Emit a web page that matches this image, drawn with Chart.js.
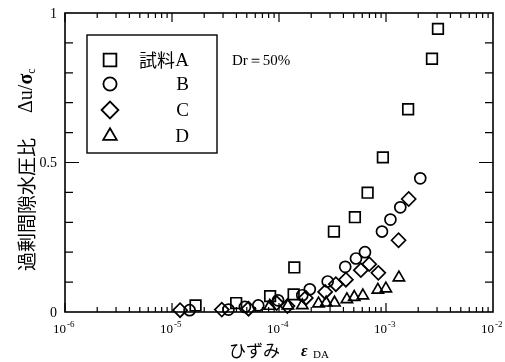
<!DOCTYPE html>
<html lang="ja">
<head>
    <meta charset="UTF-8">
    <title>過剰間隙水圧比とひずみ</title>
    <script src="https://cdn.jsdelivr.net/npm/chart.js"></script>
    <style>
        body { margin: 0; background: #fff; }
        canvas { display: block; }
    </style>
</head>
<body>
    <canvas id="chart" width="505" height="362"></canvas>

    <script>
        // 軸の目盛
        const xTicks = [1e-6, 1e-5, 1e-4, 1e-3, 1e-2];
        const xTickExp = ['-6', '-5', '-4', '-3', '-2'];
        const yTicks = [0, 0.5, 1];
        const yTickLabels = ['0', '0.5', '1'];

        // 試料A (□)
        const strainA = [1.66e-5, 3.98e-5, 8.26e-5, 1.37e-4, 1.39e-4, 3.26e-4, 5.12e-4, 6.73e-4, 9.35e-4, 1.61e-3, 2.69e-3, 3.06e-3];
        const ratioA  = [0.022, 0.030, 0.053, 0.059, 0.149, 0.269, 0.317, 0.399, 0.517, 0.678, 0.847, 0.947];
        // 試料B (○)
        const strainB = [1.46e-5, 3.37e-5, 4.8e-5, 6.4e-5, 9.8e-5, 1.65e-4, 1.94e-4, 2.85e-4, 4.16e-4, 5.24e-4, 6.36e-4, 9.17e-4, 1.10e-3, 1.36e-3, 2.09e-3];
        const ratioB  = [0.006, 0.008, 0.017, 0.022, 0.039, 0.056, 0.076, 0.102, 0.151, 0.179, 0.200, 0.269, 0.309, 0.350, 0.447];
        // 試料C (◇)
        const strainC = [1.19e-5, 2.92e-5, 5.19e-5, 9.5e-5, 1.2e-4, 1.78e-4, 2.70e-4, 3.40e-4, 4.22e-4, 5.82e-4, 6.97e-4, 8.48e-4, 1.31e-3, 1.63e-3];
        const ratioC  = [0.006, 0.008, 0.011, 0.030, 0.020, 0.047, 0.067, 0.093, 0.108, 0.140, 0.160, 0.131, 0.240, 0.378];
        // 試料D (△)
        const strainD = [8.2e-5, 1.21e-4, 1.65e-4, 2.34e-4, 2.76e-4, 3.30e-4, 4.31e-4, 5.05e-4, 6.08e-4, 8.39e-4, 9.97e-4, 1.32e-3];
        const ratioD  = [0.020, 0.021, 0.022, 0.028, 0.031, 0.031, 0.042, 0.050, 0.055, 0.074, 0.078, 0.115];

        const legendLabels = ['A', 'B', 'C', 'D'];

        const toPoints = (xs, ys) => xs.map((x, i) => ({ x: x, y: ys[i] }));

        function series(xs, ys, style, radius) {
            return {
                data: toPoints(xs, ys),
                pointStyle: style,
                pointRadius: radius,
                pointHoverRadius: radius,
                pointBorderWidth: 1.7,
                borderColor: '#000',
                backgroundColor: 'rgba(0,0,0,0)',
                showLine: false,
                clip: false
            };
        }

        const serif = "'Liberation Serif', 'DejaVu Serif', serif";
        const cjk = "'Noto Sans CJK JP', sans-serif";

        // 枠、内向きの目盛、ラベル、凡例
        const decorations = {
            id: 'decorations',
            afterDraw(chart) {
                const { ctx, chartArea: a, scales: { x, y } } = chart;
                ctx.save();
                ctx.strokeStyle = '#000';
                ctx.fillStyle = '#000';

                // 枠
                ctx.lineWidth = 1.6;
                ctx.strokeRect(a.left, a.top, a.right - a.left, a.bottom - a.top);

                // x 目盛 (上下)
                ctx.lineWidth = 1.2;
                ctx.beginPath();
                for (let i = 0; i < xTicks.length - 1; i++) {
                    for (let m = 1; m < 10; m++) {
                        const px = x.getPixelForValue(xTicks[i] * m);
                        const len = m === 1 ? 9 : 5;
                        ctx.moveTo(px, a.bottom); ctx.lineTo(px, a.bottom - len);
                        ctx.moveTo(px, a.top); ctx.lineTo(px, a.top + len);
                    }
                }
                // y 目盛 (左右)
                for (let k = 1; k < 10; k++) {
                    const py = y.getPixelForValue(k / 10);
                    const len = k === 5 ? 14 : 8;
                    ctx.moveTo(a.left, py); ctx.lineTo(a.left + len, py);
                    ctx.moveTo(a.right, py); ctx.lineTo(a.right - len, py);
                }
                ctx.stroke();

                // x 目盛ラベル
                ctx.textBaseline = 'alphabetic';
                xTicks.forEach((v, i) => {
                    const px = x.getPixelForValue(v);
                    ctx.font = '13px ' + serif;
                    ctx.textAlign = 'right';
                    ctx.fillText('10', px + 1, 333);
                    ctx.font = '9px ' + serif;
                    ctx.textAlign = 'left';
                    ctx.fillText(xTickExp[i], px + 2, 327);
                });

                // y 目盛ラベル
                ctx.font = '14px ' + serif;
                ctx.textAlign = 'right';
                ctx.textBaseline = 'middle';
                yTicks.forEach((v, i) => {
                    ctx.fillText(yTickLabels[i], 57, y.getPixelForValue(v) + 1);
                });

                // x 軸タイトル
                ctx.textBaseline = 'alphabetic';
                ctx.textAlign = 'left';
                ctx.font = '17px ' + cjk;
                ctx.fillText('ひずみ', 229, 357);
                ctx.font = 'italic bold 16px ' + serif;
                ctx.fillText('ε', 301, 356);
                ctx.font = '11px ' + serif;
                ctx.fillText('DA', 313, 358);

                // y 軸タイトル (回転)
                ctx.save();
                ctx.translate(27, 271);
                ctx.rotate(-Math.PI / 2);
                ctx.textBaseline = 'middle';
                ctx.font = '19px ' + cjk;
                ctx.fillText('過剰間隙水圧比', 0, 0);
                ctx.font = '20px ' + serif;
                ctx.fillText('Δu/', 158, 0);
                const w = ctx.measureText('Δu/').width;
                ctx.font = 'bold 20px ' + serif;
                ctx.fillText('σ', 158 + w, 0);
                const ws = ctx.measureText('σ').width;
                ctx.font = '12px ' + serif;
                ctx.fillText('c', 158 + w + ws, 5);
                ctx.restore();

                // 凡例
                ctx.lineWidth = 1.4;
                ctx.strokeRect(87, 35, 130, 118);
                const rowY = [60, 84, 110, 136];
                chart.data.datasets.forEach((ds, i) => {
                    ctx.fillStyle = 'rgba(0,0,0,0)';
                    ctx.strokeStyle = '#000';
                    ctx.lineWidth = 1.8;
                    Chart.helpers.drawPoint(ctx, {
                        pointStyle: ds.pointStyle,
                        radius: ds.pointRadius * 1.2,
                        borderWidth: 1.8
                    }, 110, rowY[i]);
                    ctx.fillStyle = '#000';
                    ctx.font = '19px ' + serif;
                    ctx.textAlign = 'right';
                    ctx.textBaseline = 'middle';
                    ctx.fillText(legendLabels[i], 189, rowY[i] + 1);
                });
                ctx.font = '18px ' + cjk;
                ctx.textAlign = 'left';
                ctx.fillText('試料', 139, 60);

                // 相対密度
                ctx.font = '15px ' + serif;
                ctx.fillText('Dr＝50%', 232, 61);

                ctx.restore();
            }
        };

        new Chart(document.getElementById('chart'), {
            type: 'scatter',
            data: {
                datasets: [
                    series(strainA, ratioA, 'rect', 7.5),
                    series(strainB, ratioB, 'circle', 5.5),
                    series(strainC, ratioC, 'rectRot', 7),
                    series(strainD, ratioD, 'triangle', 6.5)
                ]
            },
            options: {
                responsive: false,
                animation: false,
                devicePixelRatio: 1,
                layout: { padding: { left: 65, top: 13, right: 12, bottom: 50 } },
                scales: {
                    x: { type: 'logarithmic', min: 1e-6, max: 1e-2, display: false },
                    y: { type: 'linear', min: 0, max: 1, display: false }
                },
                plugins: {
                    legend: { display: false },
                    tooltip: { enabled: false }
                }
            },
            plugins: [decorations]
        });
    </script>
</body>
</html>
